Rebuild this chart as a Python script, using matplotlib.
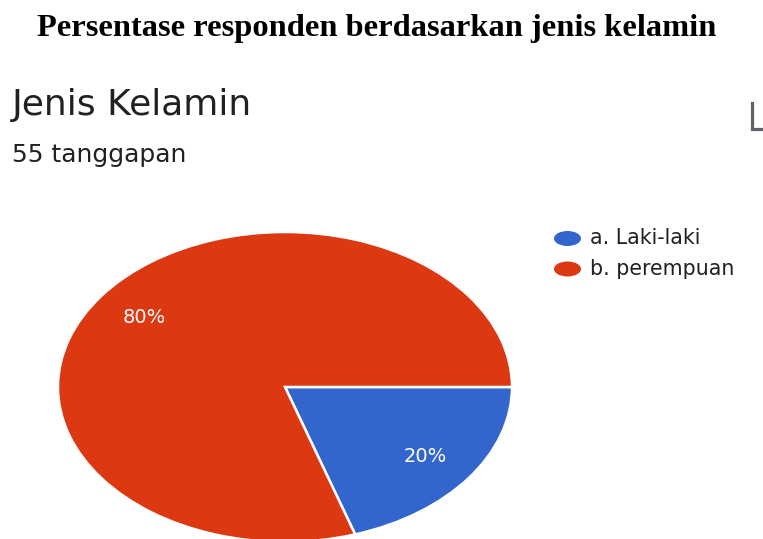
import matplotlib
matplotlib.use("Agg")
import matplotlib.pyplot as plt
from matplotlib.lines import Line2D
from matplotlib.patches import Ellipse

# Survey responses by gender
categories = ["a. Laki-laki", "b. perempuan"]
shares = [20, 80]
colors = ["#3366CC", "#DC3912"]
title = "Persentase responden berdasarkan jenis kelamin"
question = "Jenis Kelamin"
responses = "55 tanggapan"

W, H = 763, 539
fig = plt.figure(figsize=(W / 100, H / 100), dpi=100)
fig.patch.set_facecolor("white")

SANS = "DejaVu Sans"
INK = "#202124"


def fx(px):
    return px / W


def fy(py):
    return 1 - py / H


# Document heading
fig.text(fx(377), fy(36), title, ha="center", va="baseline",
         family="Liberation Serif", fontweight="bold", fontsize=23.4,
         color="black")

# Forms card header
fig.text(fx(12), fy(115), question, ha="left", va="baseline",
         family=SANS, fontsize=26, color=INK)
fig.text(fx(12), fy(161.5), responses, ha="left", va="baseline",
         family=SANS, fontsize=18, color=INK)

# Copy icon, partly cut by the right edge
fig.add_artist(Line2D([fx(751.5), fx(751.5), fx(763)],
                      [fy(103), fy(128.5), fy(128.5)],
                      transform=fig.transFigure, color="#5f6368",
                      linewidth=2.3, solid_joinstyle="miter"))

# Pie (stretched horizontally, bottom clipped by the canvas)
cx, cy, rx, ry = 285, 387, 227, 155
ax = fig.add_axes([fx(cx - rx), fy(cy + ry), (2 * rx) / W, (2 * ry) / H])
wedges, texts, autotexts = ax.pie(
    shares, colors=colors, startangle=0, counterclock=False,
    autopct="%d%%", pctdistance=0.765,
    wedgeprops=dict(edgecolor="white", linewidth=1.8),
    textprops=dict(color="white", family=SANS, fontsize=14),
)
ax.set_aspect("auto")
ax.set_xlim(-1, 1)
ax.set_ylim(-1, 1)
ax.axis("off")

# Legend with oval swatches
legend_y = [238.5, 269]
for lab, col, ly in zip(categories, colors, legend_y):
    fig.add_artist(Ellipse((fx(567.5), fy(ly)), 27 / W, 15 / H,
                           transform=fig.transFigure, facecolor=col,
                           edgecolor="none"))
    fig.text(fx(590), fy(ly), lab, ha="left", va="center",
             family=SANS, fontsize=14.8, color=INK)

fig.savefig("out.png", dpi=100, facecolor="white")
